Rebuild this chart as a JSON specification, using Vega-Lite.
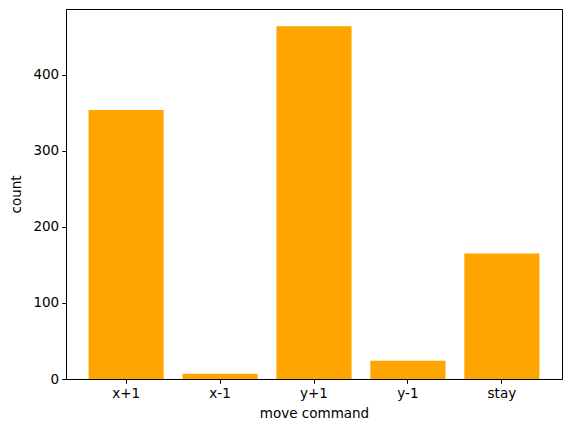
{
  "$schema": "https://vega.github.io/schema/vega-lite/v6.json",
  "autosize": {"type": "none"},
  "width": 496,
  "height": 370,
  "padding": {"left": 66, "top": 9, "right": 9, "bottom": 53},
  "background": "white",
  "data": {"values": [
    {"cmd": "x+1", "count": 354},
    {"cmd": "x-1", "count": 7},
    {"cmd": "y+1", "count": 464},
    {"cmd": "y-1", "count": 24},
    {"cmd": "stay", "count": 165}
  ]},
  "mark": {"type": "bar", "color": "#FFA500"},
  "encoding": {
    "x": {
      "field": "cmd", "type": "nominal", "sort": null,
      "title": "move command",
      "scale": {"paddingInner": 0.2, "paddingOuter": 0.24},
      "axis": {"labelAngle": 0, "titlePadding": 7}
    },
    "y": {
      "field": "count", "type": "quantitative", "title": "count",
      "scale": {"domain": [0, 486.8], "nice": false, "zero": true},
      "axis": {"values": [0, 100, 200, 300, 400], "titlePadding": 9}
    }
  },
  "config": {
    "view": {"stroke": "black", "strokeWidth": 1},
    "axis": {
      "grid": false,
      "labelFont": "DejaVu Sans",
      "labelFontSize": 13.5,
      "labelColor": "black",
      "titleFont": "DejaVu Sans",
      "titleFontSize": 13.5,
      "titleFontWeight": "normal",
      "titleColor": "black",
      "domainColor": "black",
      "domainWidth": 1,
      "tickColor": "black",
      "tickWidth": 1,
      "tickSize": 4.3,
      "labelPadding": 3
    }
  }
}
